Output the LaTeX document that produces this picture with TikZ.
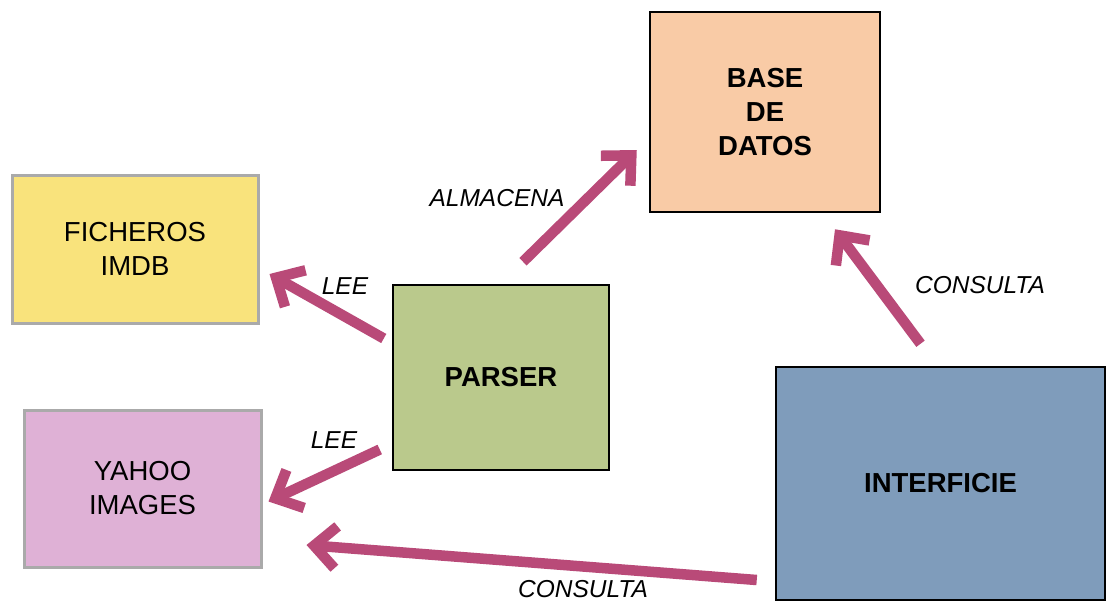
\documentclass[tikz,border=0pt]{standalone}
\usepackage{fontspec}
\setmainfont{Liberation Sans}
\usepackage{xcolor}
\definecolor{ficheros}{RGB}{249,227,124}
\definecolor{yahoo}{RGB}{223,177,214}
\definecolor{parser}{RGB}{186,201,140}
\definecolor{basedatos}{RGB}{249,203,166}
\definecolor{interficie}{RGB}{127,156,187}
\definecolor{edgegray}{RGB}{170,170,170}
\definecolor{flow}{RGB}{185,74,120}
\usetikzlibrary{arrows.meta,calc}

\begin{document}
\begin{tikzpicture}[
  x=1pt, y=-1pt,
  box/.style={draw=black, line width=2.5pt, align=center, inner sep=0pt, font=\fontsize{27.5}{34}\selectfont\bfseries},
  source/.style={draw=edgegray, line width=3pt, align=center, inner sep=0pt, font=\fontsize{27.5}{34}\selectfont},
  arrow/.style={-{Straight Barb[length=22pt,width=42pt,line cap=butt,line join=miter]}, line width=10.5pt, color=flow},
  lbl/.style={font=\fontsize{24.5}{28}\selectfont\itshape, inner sep=1pt}
]
\useasboundingbox (0,0) rectangle (1107,603);

\node[source, fill=ficheros, minimum width=246pt, minimum height=148pt] (ficheros) at (135,249) {FICHEROS\\IMDB};
\node[source, fill=yahoo, minimum width=237pt, minimum height=157pt] (yahoo) at (142.5,488.5) {YAHOO\\IMAGES};
\node[box, fill=parser, minimum width=216pt, minimum height=185pt] (parser) at (501,377.5) {PARSER};
\node[box, fill=basedatos, minimum width=230pt, minimum height=200pt] (base) at (765,112) {BASE\\DE\\DATOS};
\node[box, fill=interficie, minimum width=329pt, minimum height=233pt] (interficie) at (940.5,483.5) {INTERFICIE};

\draw[arrow] ($(parser.west)+(-8,-39)$) -- ($(ficheros.east)+(10,25)$);
\draw[arrow] ($(parser.west)+(-12,72)$) -- ($(yahoo.east)+(6,13)$);
\draw[arrow] ($(parser.north)+(22,-22)$) -- ($(base.west)+(-12,38)$);
\draw[arrow] ($(interficie.north)+(-20,-22)$) -- ($(base.south)+(70,16)$);
\draw[arrow] ($(interficie.west)+(-18,96.5)$) -- ($(yahoo.east)+(44,56.5)$);

\node[lbl] (lee1) at (345,286) {LEE};
\node[lbl] (lee2) at (334,440) {LEE};
\node[lbl] (almacena) at (497,198) {ALMACENA};
\node[lbl] (consulta1) at (980,285) {CONSULTA};
\node[lbl] (consulta2) at (583,589) {CONSULTA};
\end{tikzpicture}
\end{document}
